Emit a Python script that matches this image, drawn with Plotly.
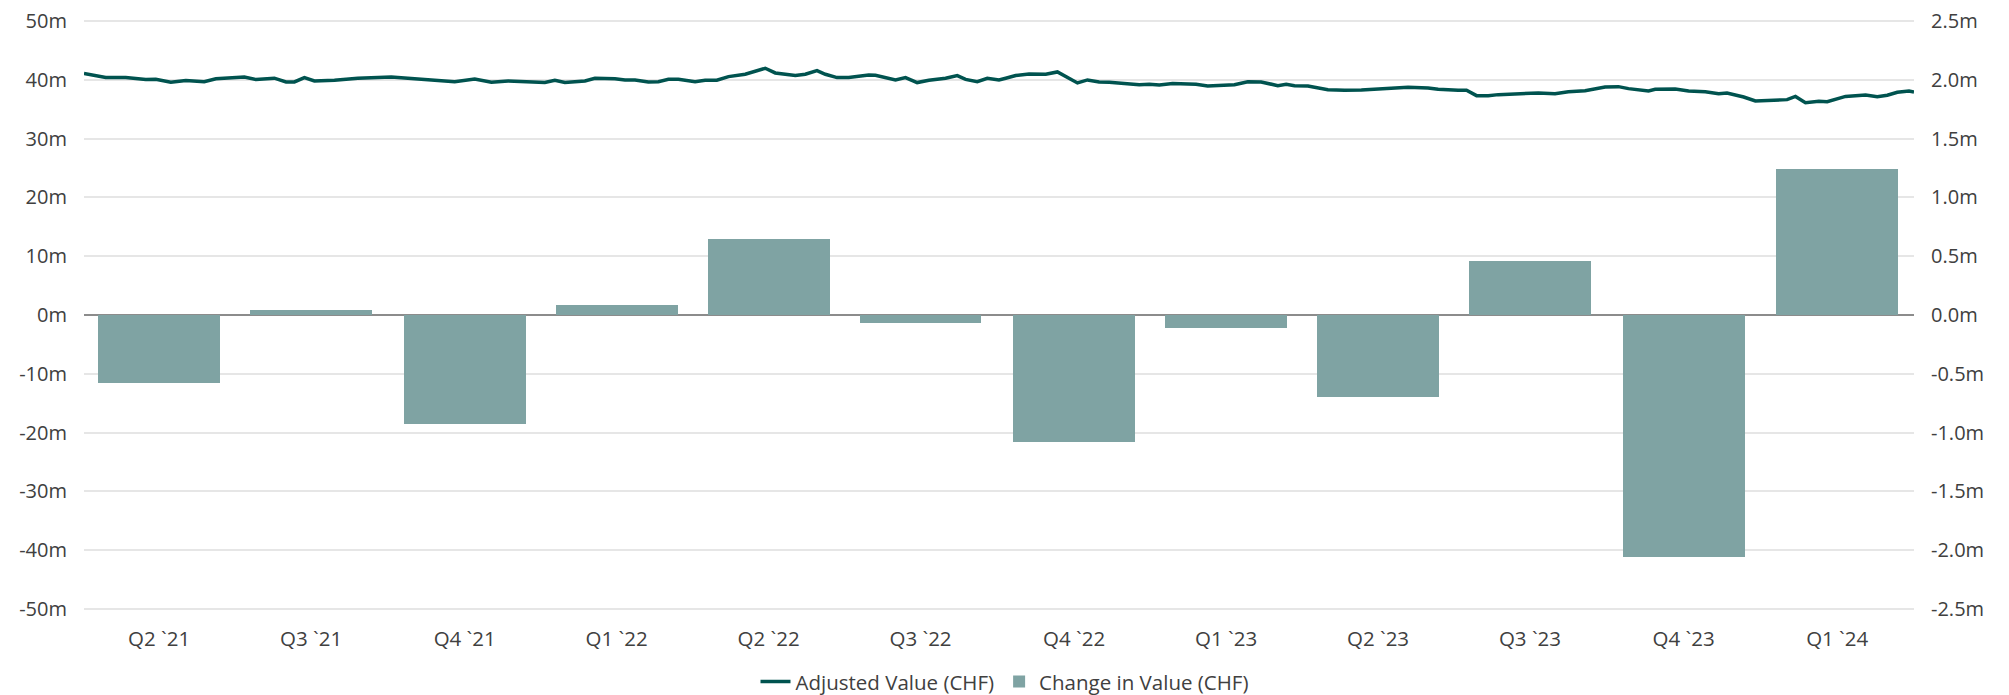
import plotly.graph_objects as go
import pandas as pd

# ---- data ----
quarters = ["Q2 `21", "Q3 `21", "Q4 `21", "Q1 `22", "Q2 `22", "Q3 `22",
            "Q4 `22", "Q1 `23", "Q2 `23", "Q3 `23", "Q4 `23", "Q1 `24"]
quarter_mid = ["2021-05-16", "2021-08-15", "2021-11-15", "2022-02-14", "2022-05-16", "2022-08-15",
               "2022-11-15", "2023-02-14", "2023-05-16", "2023-08-15", "2023-11-15", "2024-02-15"]
change_m = [-0.58, 0.044, -0.93, 0.087, 0.644, -0.066, -1.08, -0.11, -0.70, 0.46, -2.06, 1.245]

line_dates = [
    "2021-04-01", "2021-04-14", "2021-04-26", "2021-05-08", "2021-05-14", "2021-05-23", "2021-06-01",
    "2021-06-12", "2021-06-19", "2021-07-06", "2021-07-13", "2021-07-24", "2021-07-31", "2021-08-05",
    "2021-08-11", "2021-08-17", "2021-08-29", "2021-09-12", "2021-10-02", "2021-10-18", "2021-11-09",
    "2021-11-21", "2021-12-01", "2021-12-11", "2021-12-29",
    "2022-01-02", "2022-01-08", "2022-01-14", "2022-01-26", "2022-02-01", "2022-02-13", "2022-02-19",
    "2022-02-25", "2022-03-05", "2022-03-11", "2022-03-17", "2022-03-23", "2022-04-02", "2022-04-08",
    "2022-04-15", "2022-04-22", "2022-05-02", "2022-05-14", "2022-05-20", "2022-06-01", "2022-06-07",
    "2022-06-14", "2022-06-19", "2022-06-26", "2022-07-03", "2022-07-15", "2022-07-19", "2022-07-31",
    "2022-08-06", "2022-08-13", "2022-08-20", "2022-08-30", "2022-09-06", "2022-09-11", "2022-09-18",
    "2022-09-24", "2022-10-01",
    "2022-10-05", "2022-10-11", "2022-10-19", "2022-10-29", "2022-11-05", "2022-11-11", "2022-11-17",
    "2022-11-23", "2022-11-30", "2022-12-06", "2022-12-14", "2022-12-24", "2022-12-30", "2023-01-05",
    "2023-01-13", "2023-01-23", "2023-01-27", "2023-02-03", "2023-02-13", "2023-02-19", "2023-02-27",
    "2023-03-07", "2023-03-17", "2023-03-22", "2023-03-27", "2023-04-04", "2023-04-16", "2023-04-26",
    "2023-05-06", "2023-05-14", "2023-06-03", "2023-06-15", "2023-06-21", "2023-07-03",
    "2023-07-08", "2023-07-14", "2023-07-21", "2023-07-27", "2023-08-10", "2023-08-20", "2023-08-30",
    "2023-09-07", "2023-09-17", "2023-09-29", "2023-10-07", "2023-10-13", "2023-10-25", "2023-10-29",
    "2023-11-10", "2023-11-18", "2023-11-28", "2023-12-06", "2023-12-11", "2023-12-21", "2023-12-28",
    "2024-01-07", "2024-01-16", "2024-01-21", "2024-01-27", "2024-02-04", "2024-02-09", "2024-02-20",
    "2024-03-03", "2024-03-10", "2024-03-16", "2024-03-22", "2024-03-29", "2024-04-01",
]
adjusted_m = [
    41.08, 40.4, 40.4, 40.06, 40.1, 39.6, 39.9,
    39.7, 40.2, 40.5, 40.06, 40.3, 39.66, 39.66,
    40.4, 39.83, 39.94, 40.28, 40.5, 40.17, 39.7,
    40.17, 39.6, 39.83, 39.66,
    39.55, 39.94, 39.55, 39.83, 40.28, 40.2, 40.0,
    40.0, 39.66, 39.7, 40.1, 40.1, 39.7, 39.94,
    39.94, 40.57, 40.97, 41.99, 41.19, 40.74, 40.97,
    41.6, 40.97, 40.4, 40.4, 40.85, 40.8, 40.0,
    40.4, 39.55, 39.94, 40.28, 40.74, 40.1, 39.7,
    40.28, 40.0,
    40.28, 40.74, 41.02, 40.97, 41.36, 40.4, 39.49,
    40.0, 39.66, 39.6, 39.38, 39.2, 39.26, 39.15,
    39.38, 39.2, 39.26, 38.98, 39.03, 39.2, 39.7,
    39.66, 39.03, 39.26, 39.03, 38.98, 38.35, 38.24,
    38.3, 38.47, 38.75, 38.64, 38.4, 38.24,
    38.24, 37.33, 37.33, 37.5, 37.67, 37.78, 37.67,
    38.0, 38.18, 38.8, 38.86, 38.52, 38.12, 38.4,
    38.47, 38.12, 38.0, 37.67, 37.78, 37.1, 36.42,
    36.6, 36.65, 37.2, 36.14, 36.37, 36.3, 37.2,
    37.44, 37.16, 37.39, 37.9, 38.12, 37.95,
]

left_ticks = [-50, -40, -30, -20, -10, 0, 10, 20, 30, 40, 50]
left_text = ["-50m", "-40m", "-30m", "-20m", "-10m", "0m", "10m", "20m", "30m", "40m", "50m"]
right_ticks = [-2.5, -2.0, -1.5, -1.0, -0.5, 0.0, 0.5, 1.0, 1.5, 2.0, 2.5]
right_text = ["-2.5m", "-2.0m", "-1.5m", "-1.0m", "-0.5m", "0.0m", "0.5m", "1.0m", "1.5m", "2.0m", "2.5m"]

LINE_COLOR = "#00534f"
BAR_COLOR = "#7fa3a3"
TEXT_COLOR = "#404040"
GRID_COLOR = "#e6e6e6"
FONT = "'Open Sans', Roboto, sans-serif"

bar_width_ms = 73 * 24 * 3600 * 1000  # ~80% of a quarter

fig = go.Figure()
fig.add_trace(go.Bar(
    x=pd.to_datetime(quarter_mid), y=change_m, name="Change in Value (CHF)",
    marker=dict(color=BAR_COLOR, line=dict(width=0)), width=bar_width_ms,
    yaxis="y", legendrank=2,
))
fig.add_trace(go.Scatter(
    x=pd.to_datetime(line_dates), y=adjusted_m, name="Adjusted Value (CHF)",
    mode="lines", line=dict(color=LINE_COLOR, width=3.5),
    yaxis="y2", legendrank=1,
))

fig.update_layout(
    width=2009, height=695,
    margin=dict(l=84, r=95, t=20, b=85, autoexpand=False),
    paper_bgcolor="white", plot_bgcolor="white",
    font=dict(family=FONT, size=19, color=TEXT_COLOR),
    showlegend=True,
    legend=dict(orientation="h", x=0.5, xanchor="center", xref="container",
                y=0.019, yanchor="middle", yref="container",
                font=dict(size=20.5, color=TEXT_COLOR), itemwidth=30),
    bargap=0,
    xaxis=dict(
        type="date", range=["2021-04-01", "2024-04-01"],
        tickvals=pd.to_datetime(quarter_mid), ticktext=quarters,
        showgrid=False, zeroline=False, showline=False, ticks="",
        ticklabelstandoff=14,
        tickfont=dict(size=20.5, color=TEXT_COLOR),
    ),
    yaxis=dict(
        side="right", range=[-2.51, 2.51],
        tickvals=right_ticks, ticktext=right_text,
        showgrid=True, gridcolor=GRID_COLOR, gridwidth=1.5,
        zeroline=True, zerolinecolor="#8c8c8c", zerolinewidth=2,
        ticks="", ticklabelstandoff=16,
        tickfont=dict(size=20, color=TEXT_COLOR),
    ),
    yaxis2=dict(
        side="left", overlaying="y", range=[-50.2, 50.2],
        tickvals=left_ticks, ticktext=left_text,
        showgrid=False, zeroline=False, ticks="", ticklabelstandoff=16,
        tickfont=dict(size=20, color=TEXT_COLOR),
    ),
)

fig.write_html(
    "out.html",
    config={"displayModeBar": False},
    post_script="document.body.style.margin='0';document.body.style.overflow='hidden';",
)
